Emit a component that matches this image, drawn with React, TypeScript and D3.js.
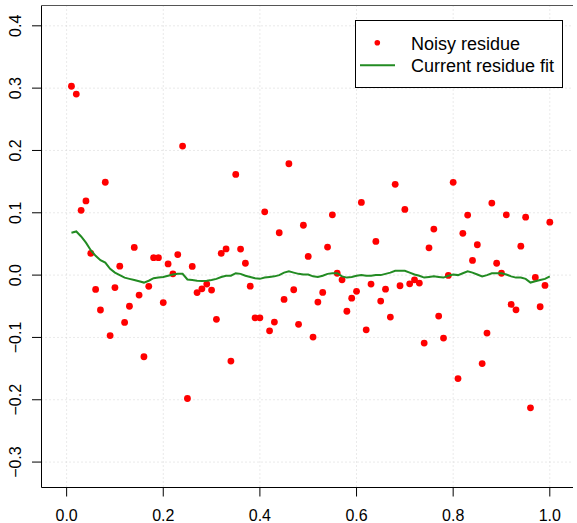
import { scaleLinear, line, range } from 'd3';

// noisy residue, one value per x = 0.01 .. 1.00
const noisy = [
  0.303, 0.2905, 0.104, 0.119, 0.035, -0.023, -0.056, 0.149, -0.097, -0.02,
  0.0144, -0.076, -0.05, 0.0444, -0.032, -0.131, -0.018, 0.028, 0.028, -0.044,
  0.018, 0.002, 0.033, 0.207, -0.198, 0.014, -0.028, -0.022, -0.0144, -0.024,
  -0.071, 0.035, 0.042, -0.138, 0.1616, 0.0417, 0.019, -0.0177, -0.0685, -0.0685,
  0.1016, -0.0894, -0.0754, 0.068, -0.039, 0.1787, -0.0235, -0.079, 0.08, 0.03,
  -0.0995, -0.0433, -0.0278, 0.045, 0.0968, 0.003, -0.0075, -0.058, -0.037, -0.026,
  0.1167, -0.0878, -0.0144, 0.054, -0.0417, -0.0225, -0.0674, 0.1456, -0.0171, 0.1054,
  -0.014, -0.0075, -0.0128, -0.109, 0.0438, 0.0738, -0.0658, -0.101, -0.0005, 0.1488,
  -0.166, 0.067, 0.0963, 0.0235, 0.0487, -0.142, -0.093, 0.1156, 0.019, 0.003,
  0.0968, -0.047, -0.0557, 0.0465, 0.093, -0.213, -0.0037, -0.0508, -0.0166, 0.085,
];

// current fit (smoothed)
const fit = [
  0.068, 0.07, 0.062, 0.052, 0.04, 0.031, 0.024, 0.02, 0.01, 0.004,
  0.0, -0.004, -0.006, -0.008, -0.01, -0.012, -0.009, -0.005, -0.004, -0.003,
  -0.001, 0.001, 0.002, 0.002, -0.007, -0.008, -0.009, -0.0096, -0.009, -0.008,
  -0.006, -0.003, -0.001, -0.001, 0.003, 0.002, -0.001, -0.003, -0.005, -0.006,
  -0.004, -0.003, -0.002, 0.0, 0.004, 0.006, 0.004, 0.002, 0.001, 0.001,
  -0.002, -0.003, -0.001, 0.002, 0.003, 0.003, -0.002, -0.004, -0.003, -0.001,
  0.0, -0.001, -0.001, 0.0, 0.0, 0.002, 0.004, 0.007, 0.007, 0.007,
  0.004, 0.001, -0.001, -0.004, -0.003, -0.002, -0.003, -0.004, -0.001, 0.001,
  0.0, 0.003, 0.006, 0.004, 0.001, -0.002, 0.0, 0.003, 0.003, 0.003,
  0.001, -0.002, -0.004, -0.004, -0.006, -0.012, -0.01, -0.008, -0.006, -0.002,
];

const xs = range(1, 101).map((i) => i / 100);
const xTicks = [0, 0.2, 0.4, 0.6, 0.8, 1.0];
const yTicks = [-0.3, -0.2, -0.1, 0.0, 0.1, 0.2, 0.3, 0.4];
const legendLabels = ['Noisy residue', 'Current residue fit'];

const W = 577;
const H = 523;
const left = 41.5;
const right = 573;
const top = 5.5;
const bottom = 487.5;

const App = () => {
  const x = scaleLinear().domain([-0.052, 1.048]).range([left, right]);
  const y = scaleLinear().domain([-0.3408, 0.4326]).range([bottom, top]);

  const fitLine = line<number>()
    .x((d, i) => x(xs[i]))
    .y((d) => y(d));

  const font = 'Liberation Sans, Arial, sans-serif';

  return (
    <svg
      width={W}
      height={H}
      style={{ position: 'absolute', left: 0, top: 0, background: '#fff' }}
      fontFamily={font}
    >
      {/* grid */}
      <g stroke='#d3d3d3' strokeDasharray='1 3' strokeWidth={1}>
        {xTicks.map((t) => (
          <line key={'gx' + t} x1={x(t)} x2={x(t)} y1={top} y2={bottom} />
        ))}
        {yTicks.map((t) => (
          <line key={'gy' + t} x1={left} x2={right} y1={y(t)} y2={y(t)} />
        ))}
      </g>

      {/* points */}
      <g fill='#ff0000'>
        {noisy.map((d, i) => (
          <circle key={i} cx={x(xs[i])} cy={y(d)} r={3.4} />
        ))}
      </g>

      <path d={fitLine(fit) || ''} fill='none' stroke='#228b22' strokeWidth={2} />

      {/* frame */}
      <g stroke='#000' strokeWidth={1}>
        <line x1={left} x2={left} y1={top} y2={bottom} />
        <line x1={left} x2={right} y1={top} y2={top} stroke='#555' />
        <line x1={left} x2={right} y1={bottom} y2={bottom} />
      </g>

      {/* x axis */}
      <g>
        {xTicks.map((t) => (
          <g key={'xt' + t}>
            <line x1={x(t)} x2={x(t)} y1={bottom} y2={bottom + 9} stroke='#000' />
            <text x={x(t)} y={521} textAnchor='middle' fontSize={16}>
              {t.toFixed(1)}
            </text>
          </g>
        ))}
      </g>

      {/* y axis */}
      <g>
        {yTicks.map((t) => (
          <g key={'yt' + t}>
            <line x1={left - 9.5} x2={left} y1={y(t)} y2={y(t)} stroke='#000' />
            <text
              transform={`translate(20.5,${y(t)}) rotate(-90)`}
              textAnchor='middle'
              fontSize={16}
            >
              {t.toFixed(1).replace('-', '\u2212')}
            </text>
          </g>
        ))}
      </g>

      {/* legend */}
      <g>
        <rect x={355.5} y={20.5} width={207} height={67} fill='#fff' stroke='#000' />
        <circle cx={377.3} cy={42.7} r={2.8} fill='#ff0000' />
        <line x1={360} x2={395} y1={65.3} y2={65.3} stroke='#228b22' strokeWidth={2} />
        {legendLabels.map((l, i) => (
          <text key={l} x={411} y={49.5 + i * 22.5} fontSize={18}>
            {l}
          </text>
        ))}
      </g>
    </svg>
  );
};

export default App;
